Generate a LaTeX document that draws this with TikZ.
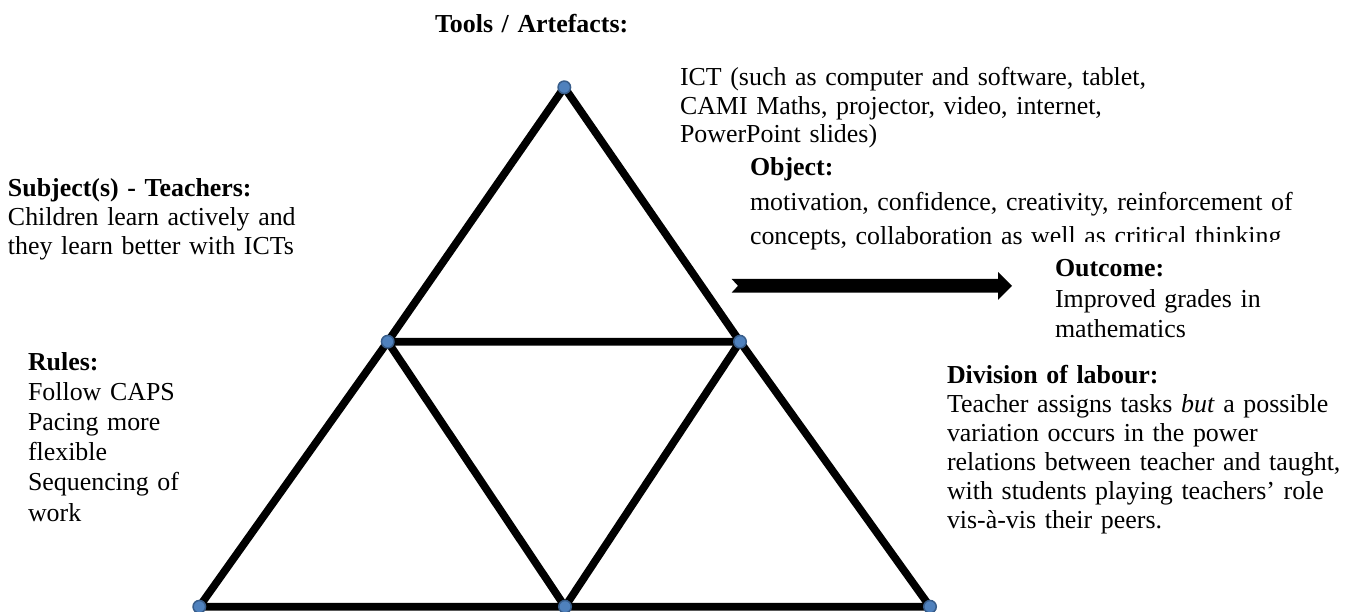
\documentclass[tikz,border=0pt]{standalone}
\usepackage{fontspec}
\setmainfont{Liberation Serif}
\definecolor{dotfill}{RGB}{79,129,189}
\definecolor{dotline}{RGB}{56,93,138}
\begin{document}
\begin{tikzpicture}[x=1pt,y=-1pt,
  txt/.style={anchor=base west, inner sep=0pt, outer sep=0pt, text width=640pt, align=left, font=\fontsize{25.9}{#1}\selectfont},
  edge/.style={line width=7.7pt, line cap=round, line join=round, black},
  vdot/.style={circle, fill=dotfill, draw=dotline, line width=1.5pt, minimum size=12.5pt, inner sep=0pt}]
\useasboundingbox (0,0) rectangle (1352,612);

% vertices
\coordinate (T)  at (564.3,87.3);
\coordinate (ML) at (387.7,341.7);
\coordinate (MR) at (740,341.7);
\coordinate (BL) at (199.3,606.7);
\coordinate (BM) at (565,606.7);
\coordinate (BR) at (930,606.7);

\draw[edge] (T) -- (ML) -- (BL) -- (BM) -- (BR) -- (MR) -- cycle;
\draw[edge] (ML) -- (MR) -- (BM) -- cycle;

\foreach \p in {T,ML,MR,BL,BM,BR} \node[vdot] (d\p) at (\p) {};

% block arrow
\coordinate (aT) at (731.7,285.8);
\coordinate (aH) at (1012,285.8);
\fill (731.7,279) -- (998,279) -- (998,271.8) -- (aH) -- (998,299.8) -- (998,292.6) -- (731.7,292.6) -- (738,285.8) -- cycle;

% texts
\node[txt=29] (tools) at (435,33) {\bfseries Tools / Artefacts:};

\begin{scope}
\clip (670,50) rectangle (1352,148.5);
\node[txt=28.5] (ict) at (680,86) {ICT (such as computer and software, tablet,\\CAMI Maths, projector, video, internet,\\PowerPoint slides)};
\end{scope}

\node[txt=34.5] (object) at (750,176) {{\bfseries Object:}\\motivation, confidence, creativity, reinforcement of\\concepts, collaboration as well as critical thinking};

\fill[white] (1031,241.7) rectangle (1352,362);
\node[txt=30.5] (outcome) at (1055,277) {{\bfseries Outcome:}\\Improved grades in\\mathematics};

\node[txt=29] (subject) at (8,197) {{\bfseries Subject(s) - Teachers:}\\Children learn actively and\\they learn better with ICTs};

\node[txt=30.2] (rules) at (28,370) {{\bfseries Rules:}\\Follow CAPS\\Pacing more\\flexible\\Sequencing of\\work};

\node[txt=29] (division) at (947,383) {{\bfseries Division of labour:}\\Teacher assigns tasks \textit{but} a possible\\variation occurs in the power\\relations between teacher and taught,\\with students playing teachers’ role\\vis-à-vis their peers.};
\end{tikzpicture}
\end{document}
